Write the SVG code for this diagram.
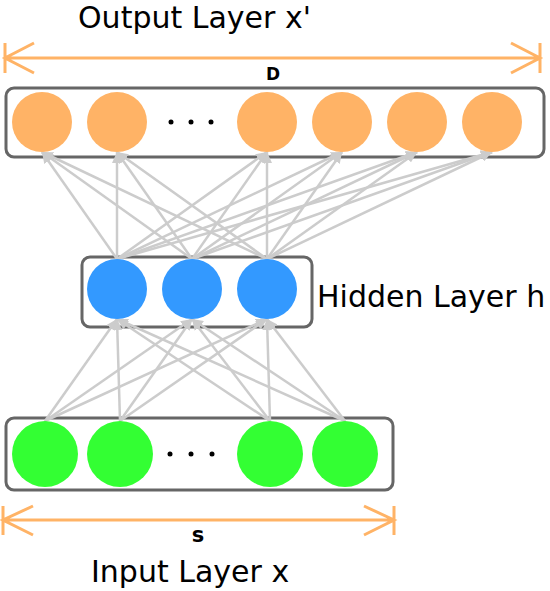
<svg xmlns="http://www.w3.org/2000/svg" width="550" height="591" viewBox="0 0 550 591">
<defs>
<marker id="ah" markerUnits="userSpaceOnUse" markerWidth="11" markerHeight="10" refX="11" refY="5" orient="auto" viewBox="0 0 11 10">
<path d="M0,0 L11,5 L0,10 z" fill="#cccccc"/>
</marker>
<style>
.box{fill:#fff;stroke:#666;stroke-width:3}
.out{fill:#ffb366}
.hid{fill:#3399ff}
.inp{fill:#33ff33}
.dot{fill:#000}
.con line{stroke:#cccccc;stroke-width:2.5;marker-end:url(#ah)}
.dim{stroke:#ffb366;stroke-width:3;fill:none}
.lbl{font-family:"DejaVu Sans","Liberation Sans",sans-serif;font-size:30px;fill:#000}
.dl{font-family:"DejaVu Sans","Liberation Sans",sans-serif;font-weight:bold;fill:#000;text-anchor:middle}
</style>
</defs>
<rect width="550" height="591" fill="#fff"/>
<g id="dim-D">
<path class="dim" d="M5,58 H540 M5,43 V73 M540,43 V73 M34,43 L5,58 L34,73 M511,43 L540,58 L511,73"/>
<text class="dl" x="273" y="80" font-size="17">D</text>
</g>
<g id="dim-s">
<path class="dim" d="M3,520 H394 M3,506 V535 M394,506 V535 M33,506 L3,520 L33,535 M364,506 L394,520 L364,535"/>
<text class="dl" x="198" y="542" font-size="21">s</text>
</g>
<text class="lbl" x="78" y="28">Output Layer x'</text>
<text class="lbl" x="317" y="307">Hidden Layer h</text>
<text class="lbl" x="91" y="582">Input Layer x</text>
<g id="output-layer"><rect class="box" x="6" y="88" width="538" height="69" rx="8"/></g>
<g id="hidden-layer"><rect class="box" x="82" y="257" width="230" height="70" rx="8"/></g>
<g id="input-layer"><rect class="box" x="6" y="418" width="387" height="72" rx="8"/></g>
<g id="connectors" class="con">
<line x1="45" y1="421" x2="117" y2="319"/><line x1="45" y1="421" x2="192" y2="319"/><line x1="45" y1="421" x2="267" y2="319"/>
<line x1="120" y1="421" x2="117" y2="319"/><line x1="120" y1="421" x2="192" y2="319"/><line x1="120" y1="421" x2="267" y2="319"/>
<line x1="270" y1="421" x2="117" y2="319"/><line x1="270" y1="421" x2="192" y2="319"/><line x1="270" y1="421" x2="267" y2="319"/>
<line x1="345" y1="421" x2="117" y2="319"/><line x1="345" y1="421" x2="192" y2="319"/><line x1="345" y1="421" x2="267" y2="319"/>
<line x1="117" y1="259" x2="42" y2="152"/><line x1="117" y1="259" x2="117" y2="152"/><line x1="117" y1="259" x2="267" y2="152"/><line x1="117" y1="259" x2="342" y2="152"/><line x1="117" y1="259" x2="417" y2="152"/><line x1="117" y1="259" x2="492" y2="152"/>
<line x1="192" y1="259" x2="42" y2="152"/><line x1="192" y1="259" x2="117" y2="152"/><line x1="192" y1="259" x2="267" y2="152"/><line x1="192" y1="259" x2="342" y2="152"/><line x1="192" y1="259" x2="417" y2="152"/><line x1="192" y1="259" x2="492" y2="152"/>
<line x1="267" y1="259" x2="42" y2="152"/><line x1="267" y1="259" x2="117" y2="152"/><line x1="267" y1="259" x2="267" y2="152"/><line x1="267" y1="259" x2="342" y2="152"/><line x1="267" y1="259" x2="417" y2="152"/><line x1="267" y1="259" x2="492" y2="152"/>
</g>
<g id="o1"><circle class="out" cx="42" cy="122" r="30"/></g>
<g id="o2"><circle class="out" cx="117" cy="122" r="30"/></g>
<g id="o-dots"><circle class="dot" cx="171" cy="122" r="2.5"/><circle class="dot" cx="191" cy="122" r="2.5"/><circle class="dot" cx="211" cy="122" r="2.5"/></g>
<g id="o3"><circle class="out" cx="267" cy="122" r="30"/></g>
<g id="o4"><circle class="out" cx="342" cy="122" r="30"/></g>
<g id="o5"><circle class="out" cx="417" cy="122" r="30"/></g>
<g id="o6"><circle class="out" cx="492" cy="122" r="30"/></g>
<g id="h1"><circle class="hid" cx="117" cy="289" r="30"/></g>
<g id="h2"><circle class="hid" cx="192" cy="289" r="30"/></g>
<g id="h3"><circle class="hid" cx="267" cy="289" r="30"/></g>
<g id="i1"><circle class="inp" cx="45" cy="454" r="33"/></g>
<g id="i2"><circle class="inp" cx="120" cy="454" r="33"/></g>
<g id="i-dots"><circle class="dot" cx="170" cy="454" r="2.5"/><circle class="dot" cx="191" cy="454" r="2.5"/><circle class="dot" cx="212" cy="454" r="2.5"/></g>
<g id="i3"><circle class="inp" cx="270" cy="454" r="33"/></g>
<g id="i4"><circle class="inp" cx="345" cy="454" r="33"/></g>
</svg>
